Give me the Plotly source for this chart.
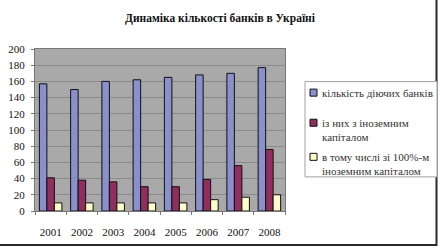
import plotly.graph_objects as go

years = ["2001", "2002", "2003", "2004", "2005", "2006", "2007", "2008"]
total_banks = [157, 150, 160, 162, 165, 168, 170, 177]
foreign_banks = [41, 38, 36, 30, 30, 39, 56, 76]
foreign_100 = [10, 10, 10, 10, 10, 14, 17, 20]

names = [
    "кількість діючих банків",
    "із них з іноземним<br>капіталом",
    "в тому числі зі 100%-м<br>іноземним капіталом",
]
colors = ["#8a90cc", "#8e2f5e", "#ffffcc"]
series = [total_banks, foreign_banks, foreign_100]

# layout helpers (pixel -> paper)
L, R, T, B = 35, 285, 49.5, 211.0
def px(x):
    return (x - L) / (R - L)
def py(y):
    return (B - y) / (B - T)

fig = go.Figure()
for i, (nm, col, vals) in enumerate(zip(names, colors, series)):
    fig.add_trace(go.Bar(
        x=years, y=vals, name=nm.replace("<br>", " "),
        marker=dict(color=col, line=dict(color="#111111", width=1)),
    ))

font = "Liberation Serif, Times New Roman, serif"
fig.update_layout(
    width=440, height=251,
    margin=dict(l=35, r=155, t=49, b=40, autoexpand=False),
    paper_bgcolor="white",
    plot_bgcolor="#a9a9a9",
    barmode="group",
    bargap=0.28,
    bargroupgap=0,
    font=dict(family=font, size=11, color="#111111"),
    title=dict(text="<b>Динаміка кількості банків в Україні</b>",
               x=0.5, xref="container", y=0.93, yanchor="middle",
               font=dict(family=font, size=11.5, color="#111111")),
    showlegend=False,
)
fig.update_yaxes(range=[0, 200], dtick=20, showgrid=True, gridcolor="#8a8a8a",
                 gridwidth=1, ticks="outside", ticklen=3, tickcolor="#777777",
                 showline=True, linecolor="#777777", zeroline=False,
                 mirror=True, automargin=False, ticklabelstandoff=4)
fig.update_xaxes(showline=True, linecolor="#777777", ticks="outside", ticklen=3,
                 tickcolor="#777777", tickson="boundaries", mirror=True,
                 ticklabelstandoff=11, tickangle=0, automargin=False)

# outer chart frame
fig.add_shape(type="rect", xref="paper", yref="paper",
              x0=-0.5, x1=px(436.5), y0=py(245), y1=1.5,
              line=dict(color="#2a2a2a", width=2), fillcolor="rgba(0,0,0,0)",
              layer="below")

# legend box
fig.add_shape(type="rect", xref="paper", yref="paper",
              x0=px(305), x1=px(437), y0=py(177), y1=py(82),
              line=dict(color="#a0a0a0", width=1), fillcolor="white",
              layer="above")

first_line_y = [93, 123, 157]
for nm, col, yc in zip(names, colors, first_line_y):
    fig.add_shape(type="rect", xref="paper", yref="paper",
                  x0=px(310), x1=px(317), y0=py(yc + 3.5), y1=py(yc - 3.5),
                  line=dict(color="#111111", width=1), fillcolor=col,
                  layer="above")
    fig.add_annotation(xref="paper", yref="paper", x=px(320), y=py(yc - 7.5),
                       xanchor="left", yanchor="top", align="left",
                       text=nm, showarrow=False,
                       font=dict(family=font, size=11, color="#333333"))

fig.write_html("out.html")
